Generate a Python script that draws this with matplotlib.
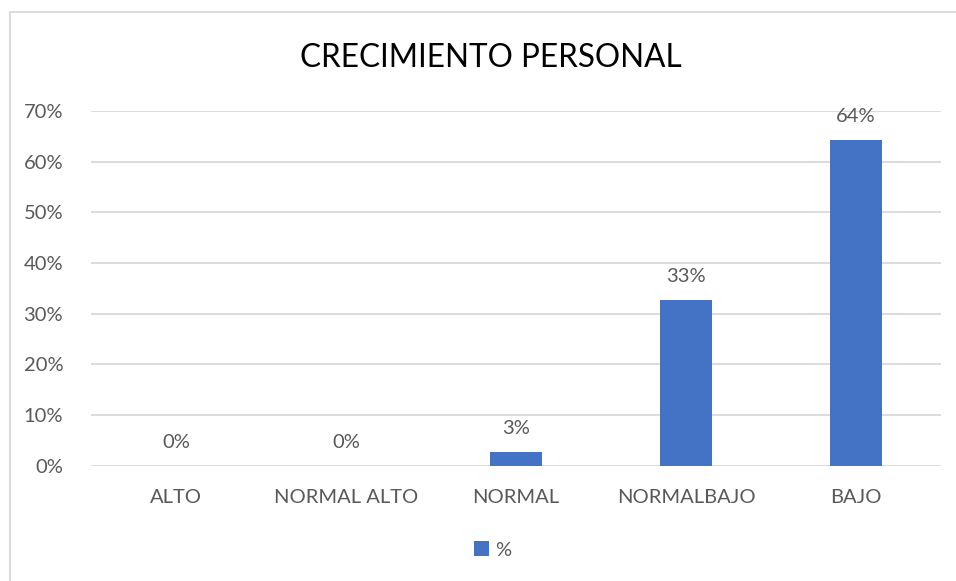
import matplotlib
matplotlib.use("Agg")
import matplotlib.pyplot as plt
from matplotlib.patches import Rectangle
from matplotlib.ticker import FuncFormatter

categories = ["ALTO", "NORMAL ALTO", "NORMAL", "NORMALBAJO", "BAJO"]
values = [0.0, 0.0, 0.0276, 0.327, 0.643]
labels = ["0%", "0%", "3%", "33%", "64%"]
title = "CRECIMIENTO PERSONAL"
series_name = "%"

plt.rcParams['font.family'] = ['Lato', 'DejaVu Sans']
gray = "#595959"
bar_color = "#4472C4"

fig = plt.figure(figsize=(9.56, 5.81), dpi=100)
ax = fig.add_axes([91/956, 1-465.7/581, 850/956, (465.7-111)/581])

x = list(range(len(categories)))
bars = ax.bar(x, values, width=0.31, color=bar_color, label=series_name, zorder=3)
for xi, v, lab in zip(x, values, labels):
    ax.annotate(lab, (xi, v), xytext=(0, 10.5), textcoords="offset points",
                ha="center", va="bottom", fontsize=14.5, color=gray)

ax.set_xlim(-0.5, len(categories) - 0.5)
ax.set_ylim(0, 0.7)
ax.set_yticks([i / 10 for i in range(8)])
ax.yaxis.set_major_formatter(FuncFormatter(lambda v, p: f"{round(v*100)}%"))
ax.set_xticks(x)
ax.set_xticklabels(categories)
ax.tick_params(axis="both", length=0, labelsize=14.5, colors=gray)
ax.tick_params(axis="x", pad=17)
ax.tick_params(axis="y", pad=20)
ax.grid(axis="y", color="#d9d9d9", linewidth=1.3, zorder=0)
for s in ax.spines.values():
    s.set_visible(False)

fig.text(491/956, 1-58/581, title, ha="center", va="center", fontsize=22.7, color="black")

leg = fig.legend(loc="center", bbox_to_anchor=(493/956, 1-550/581), frameon=False,
                 fontsize=14.5, handlelength=0.75, handleheight=0.75, handletextpad=0.3)
for t in leg.get_texts():
    t.set_color(gray)

fig.patches.append(Rectangle((10/956, -0.5), 2, 1.5-12/581, transform=fig.transFigure,
                             fill=False, edgecolor="#d9d9d9", linewidth=1.3))

fig.savefig("out.png", dpi=100)
